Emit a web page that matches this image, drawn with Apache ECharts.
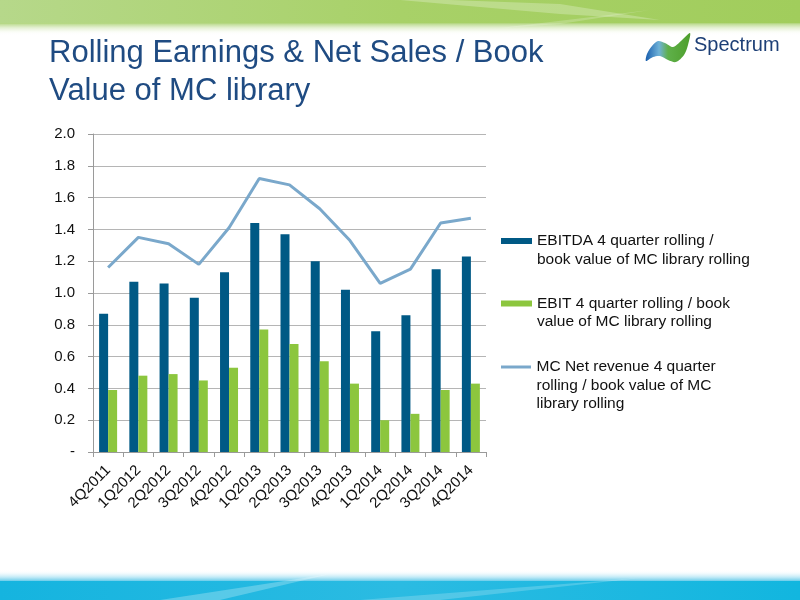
<!DOCTYPE html>
<html><head><meta charset="utf-8">
<script src="https://cdn.jsdelivr.net/npm/echarts@6/dist/echarts.min.js"></script>
<style>html,body{margin:0;padding:0;background:#fff}#c{width:800px;height:600px}</style>
</head><body><div id="c"></div>
<script>
const categories = ['4Q2011','1Q2012','2Q2012','3Q2012','4Q2012','1Q2013','2Q2013','3Q2013','4Q2013','1Q2014','2Q2014','3Q2014','4Q2014'];
const ebitda = [0.87,1.07,1.06,0.97,1.13,1.44,1.37,1.20,1.02,0.76,0.86,1.15,1.23];
const ebit = [0.39,0.48,0.49,0.45,0.53,0.77,0.68,0.57,0.43,0.20,0.24,0.39,0.43];
const netRevenue = [1.16,1.35,1.31,1.18,1.41,1.72,1.68,1.53,1.33,1.06,1.15,1.44,1.47];
const yTicks = [0,0.2,0.4,0.6,0.8,1.0,1.2,1.4,1.6,1.8,2.0];
const names = [
  'EBITDA 4 quarter rolling /\nbook value of MC library rolling',
  'EBIT 4 quarter rolling / book\nvalue of MC library rolling',
  'MC Net revenue 4 quarter\nrolling / book value of MC\nlibrary rolling'
];
const FONT = 'Liberation Sans, Arial, Helvetica, sans-serif';
const LH = 18.3;
const chart = echarts.init(document.getElementById('c'));
function legendAt(i, centerY, icon, w, h) {
  const lines = names[i].split('\n').length;
  const total = 2 * lines - 1;
  return {
    show: true, left: 501, top: centerY - total * LH / 2, orient: 'vertical',
    itemWidth: w, itemHeight: h, icon: icon, itemGap: 0, padding: 0,
    data: [{name: names[i]}],
    formatter: n => ' \n'.repeat(lines - 1) + n,
    textStyle: {fontFamily: FONT, fontSize: 15.5, color: '#111', lineHeight: LH},
    selectedMode: false
  };
}
chart.setOption({
  animation: false,
  textStyle: {fontFamily: FONT},
  grid: {left: 93, right: 314, top: 134, bottom: 148, containLabel: false},
  legend: [
    legendAt(0, 241, 'rect', 31, 6),
    legendAt(1, 303.5, 'rect', 31, 6),
    legendAt(2, 367, 'path://M0,0 L10,0 L10,1 L0,1 Z', 31, 3)
  ],
  xAxis: {
    type: 'category', data: categories,
    axisLine: {lineStyle: {color: '#9a9a9a', width: 1}},
    axisTick: {show: true, alignWithLabel: false, length: 5, lineStyle: {color: '#9a9a9a'}},
    axisLabel: {rotate: 45, fontSize: 15, color: '#111', fontFamily: FONT, margin: 16, interval: 0}
  },
  yAxis: {
    type: 'value', min: 0, max: 2, interval: 0.2,
    axisLine: {show: true, lineStyle: {color: '#9a9a9a'}},
    axisTick: {show: true, length: 5, lineStyle: {color: '#9a9a9a'}},
    splitLine: {lineStyle: {color: '#b5b5b5', width: 1}},
    axisLabel: {fontSize: 15, color: '#111', fontFamily: FONT, margin: 18,
      formatter: v => (Math.abs(v) < 1e-9 ? '-' : v.toFixed(1))}
  },
  series: [
    {name: names[0], type: 'bar', data: ebitda, barWidth: 9, barGap: '0%', itemStyle: {color: '#005985'}},
    {name: names[1], type: 'bar', data: ebit, barWidth: 9, barGap: '0%', itemStyle: {color: '#8cc63e'}},
    {name: names[2], type: 'line', data: netRevenue, symbol: 'none', lineStyle: {color: '#7aa8cb', width: 3}, itemStyle: {color: '#7aa8cb'}}
  ],
  graphic: [
    {type: 'rect', shape: {x: 0, y: 0, width: 800, height: 24}, silent: true, z: -10,
      style: {fill: new echarts.graphic.LinearGradient(0, 0, 1, 0, [
        {offset: 0, color: '#b6d88a'}, {offset: 0.5, color: '#a8d168'}, {offset: 1, color: '#a1cd5c'}])}},
    {type: 'rect', shape: {x: 0, y: 23, width: 800, height: 12}, silent: true, z: -10,
      style: {fill: new echarts.graphic.LinearGradient(0, 0, 0, 1, [
        {offset: 0, color: '#b3d680'}, {offset: 1, color: 'rgba(255,255,255,0)'}])}},
    {type: 'polygon', shape: {points: [[400, 0], [560, 14], [660, 20], [560, 4], [450, 0]]}, silent: true, z: -9,
      style: {fill: 'rgba(255,255,255,0.25)'}},
    {type: 'polygon', shape: {points: [[560, 24], [650, 10], [500, 28]]}, silent: true, z: -9,
      style: {fill: 'rgba(255,255,255,0.2)'}},
    {type: 'rect', shape: {x: 0, y: 570, width: 800, height: 12}, silent: true, z: -10,
      style: {fill: new echarts.graphic.LinearGradient(0, 0, 0, 1, [
        {offset: 0, color: 'rgba(255,255,255,0)'}, {offset: 1, color: '#4cc2e6'}])}},
    {type: 'rect', shape: {x: 0, y: 581, width: 800, height: 19}, silent: true, z: -10,
      style: {fill: new echarts.graphic.LinearGradient(0, 0, 1, 0, [
        {offset: 0, color: '#15b4df'}, {offset: 0.5, color: '#2bbbe2'}, {offset: 1, color: '#12b6df'}])}},
    {type: 'polygon', shape: {points: [[160, 600], [330, 574], [220, 600]]}, silent: true, z: -9,
      style: {fill: 'rgba(255,255,255,0.25)'}},
    {type: 'polygon', shape: {points: [[360, 600], [640, 578], [440, 600]]}, silent: true, z: -9,
      style: {fill: 'rgba(255,255,255,0.2)'}},
    {type: 'text', left: 49, top: 35, silent: true,
      style: {text: 'Rolling Earnings & Net Sales / Book\nValue of MC library', font: '31px ' + FONT,
        fill: '#1f4b82', lineHeight: 37.5}},
    {type: 'polygon', silent: true,
      shape: {smooth: 0.3, points: [[646,61],[647,54],[652,46],[658,41],[665,43],[673,47],[681,41],[690,33],[688,45],[684,55],[676,62],[668,60],[660,56],[653,57]]},
      style: {fill: new echarts.graphic.LinearGradient(0, 0, 1, 0, [
        {offset: 0, color: '#1a5fae'}, {offset: 0.3, color: '#6fb2d8'}, {offset: 0.5, color: '#5fb04a'}, {offset: 1, color: '#4e9f2c'}])}},
    {type: 'text', left: 694, top: 35, silent: true,
      style: {text: 'Spectrum', font: '20px ' + FONT, fill: '#1d3f76'}}
  ]
});
</script></body></html>
